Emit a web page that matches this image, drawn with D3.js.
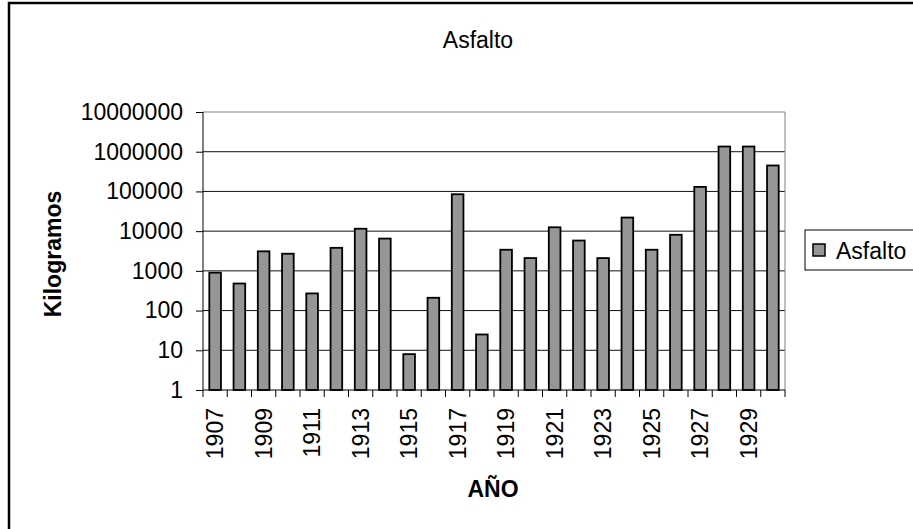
<!DOCTYPE html>
<html>
<head>
<meta charset="utf-8">
<script src="https://cdn.jsdelivr.net/npm/d3@7"></script>
<style>
  body { margin: 0; background: #fff; }
  svg { display: block; font-family: "Liberation Sans", Arial, sans-serif; }
</style>
</head>
<body>
<div id="chart"></div>
<script>
// Data
const years = [1907, 1908, 1909, 1910, 1911, 1912, 1913, 1914, 1915, 1916, 1917, 1918,
  1919, 1920, 1921, 1922, 1923, 1924, 1925, 1926, 1927, 1928, 1929, 1930];
const asfalto = [900, 480, 3100, 2700, 270, 3800, 11500, 6500, 8, 210, 85000, 25,
  3400, 2100, 12500, 5800, 2100, 22000, 3400, 8100, 130000, 1350000, 1350000, 450000];
const yTicks = [1, 10, 100, 1000, 10000, 100000, 1000000, 10000000];

const config = {
  containerWidth: 913,
  containerHeight: 529,
  margin: { top: 112, right: 128, bottom: 139, left: 203 }
};
const width = config.containerWidth - config.margin.left - config.margin.right;
const height = config.containerHeight - config.margin.top - config.margin.bottom;

const svg = d3.select('#chart').append('svg')
  .attr('width', config.containerWidth)
  .attr('height', config.containerHeight);

// Outer chart border (runs off the right and bottom edges)
svg.append('rect')
  .attr('x', 9).attr('y', 3)
  .attr('width', 960).attr('height', 560)
  .attr('fill', 'none')
  .attr('stroke', '#000')
  .attr('stroke-width', 2.5);

const chart = svg.append('g')
  .attr('transform', `translate(${config.margin.left},${config.margin.top})`);

// Scales
const xScale = d3.scaleBand()
  .domain(years)
  .range([0, width])
  .paddingInner(0.52)
  .paddingOuter(0.26);

const xBand = d3.scaleBand().domain(years).range([0, width]);

const yScale = d3.scaleLog()
  .domain([1, 10000000])
  .range([height, 0]);

// Gridlines
chart.selectAll('.grid')
  .data(yTicks.slice(1))
  .join('line')
  .attr('class', 'grid')
  .attr('x1', 0).attr('x2', width)
  .attr('y1', d => yScale(d)).attr('y2', d => yScale(d))
  .attr('stroke', d => d === 10000000 ? '#808080' : '#111')
  .attr('stroke-width', 1);

// Plot area border (right side)
chart.append('line')
  .attr('x1', width).attr('x2', width)
  .attr('y1', 0).attr('y2', height)
  .attr('stroke', '#808080');

// Bars
chart.selectAll('.bar')
  .data(years)
  .join('rect')
  .attr('class', 'bar')
  .attr('x', d => xScale(d))
  .attr('width', xScale.bandwidth())
  .attr('y', (d, i) => yScale(asfalto[i]))
  .attr('height', (d, i) => height - yScale(asfalto[i]))
  .attr('fill', '#969696')
  .attr('stroke', '#000')
  .attr('stroke-width', 1.8);

// Y axis
const yAxis = d3.axisLeft(yScale)
  .tickValues(yTicks)
  .tickFormat(d3.format('d'))
  .tickSize(7)
  .tickPadding(13);

chart.append('g')
  .call(yAxis)
  .call(g => g.selectAll('text')
    .attr('font-size', 23)
    .attr('font-family', '"Liberation Sans", Arial, sans-serif')
    .attr('fill', '#000'))
  .call(g => g.select('.domain').attr('d', `M0,0V${height}`));

// X axis: ticks on band boundaries, labels every second year
const xAxisGroup = chart.append('g')
  .attr('transform', `translate(0,${height})`);

xAxisGroup.append('line')
  .attr('x1', 0).attr('x2', width)
  .attr('stroke', '#000');

xAxisGroup.selectAll('.xtick')
  .data(years.concat([null]))
  .join('line')
  .attr('class', 'xtick')
  .attr('x1', (d, i) => i * xBand.step())
  .attr('x2', (d, i) => i * xBand.step())
  .attr('y1', 0).attr('y2', 7)
  .attr('stroke', '#000');

xAxisGroup.selectAll('.xlabel')
  .data(years.filter((d, i) => i % 2 === 0))
  .join('text')
  .attr('class', 'xlabel')
  .attr('transform', d => `translate(${xBand(d) + xBand.bandwidth() / 2},18) rotate(-90)`)
  .attr('text-anchor', 'end')
  .attr('dy', '0.35em')
  .attr('font-size', 23)
  .text(d => d);

// Title and axis titles
svg.append('text')
  .attr('x', 478).attr('y', 48)
  .attr('text-anchor', 'middle')
  .attr('font-size', 23)
  .text('Asfalto');

svg.append('text')
  .attr('x', 493).attr('y', 497)
  .attr('text-anchor', 'middle')
  .attr('font-size', 23)
  .attr('font-weight', 'bold')
  .text('AÑO');

svg.append('text')
  .attr('transform', 'translate(61,254) rotate(-90)')
  .attr('text-anchor', 'middle')
  .attr('font-size', 23)
  .attr('font-weight', 'bold')
  .text('Kilogramos');

// Legend
const legend = svg.append('g')
  .attr('transform', 'translate(805,230)');

legend.append('rect')
  .attr('width', 140).attr('height', 40)
  .attr('fill', '#fff')
  .attr('stroke', '#000');

legend.append('rect')
  .attr('x', 8).attr('y', 14)
  .attr('width', 12).attr('height', 12)
  .attr('fill', '#969696')
  .attr('stroke', '#000')
  .attr('stroke-width', 1.5);

legend.append('text')
  .attr('x', 31).attr('y', 29)
  .attr('font-size', 23)
  .text('Asfalto');
</script>
</body>
</html>
